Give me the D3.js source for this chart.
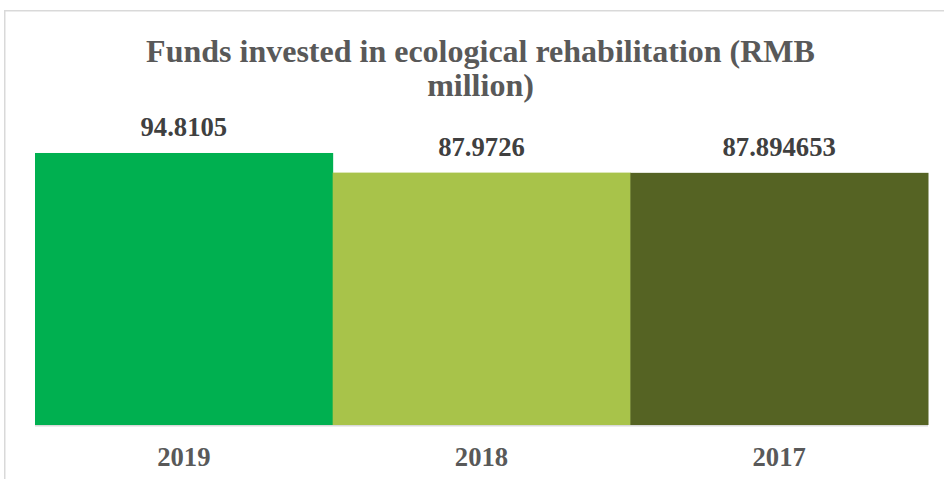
<!DOCTYPE html>
<html>
<head>
<meta charset="utf-8">
<script src="https://cdn.jsdelivr.net/npm/d3@7"></script>
<style>
  html, body { margin: 0; padding: 0; background: #fff; }
  svg { display: block; }
</style>
</head>
<body>
<script>
const categories = ["2019", "2018", "2017"];
const values = [94.8105, 87.9726, 87.894653];
const valueLabels = ["94.8105", "87.9726", "87.894653"];
const barColors = ["#00B050", "#A8C34A", "#556323"];
const titleLines = ["Funds invested in ecological rehabilitation (RMB", "million)"];

const W = 944, H = 479;
const svg = d3.select("body").append("svg").attr("width", W).attr("height", H);

// chart border
svg.append("rect")
  .attr("x", 4.75).attr("y", 10.75)
  .attr("width", 1000).attr("height", 600)
  .attr("fill", "none").attr("stroke", "#d9d9d9").attr("stroke-width", 1.5);

const x = d3.scaleBand().domain(categories).range([35, 928]).padding(0);
const y = d3.scaleLinear().domain([0, 100]).range([425, 138.1]);

const font = "'Liberation Serif', 'Times New Roman', serif";

// title
svg.append("g").selectAll("text").data(titleLines).join("text")
  .attr("x", 480.5)
  .attr("y", (d, i) => i === 0 ? 61.7 : 96.2)
  .attr("text-anchor", "middle")
  .attr("font-family", font).attr("font-weight", "bold")
  .attr("font-size", "32px").attr("fill", "#595959")
  .text(d => d);

// bars
svg.append("g").selectAll("rect").data(values).join("rect")
  .attr("x", (d, i) => x(categories[i]))
  .attr("y", d => y(d))
  .attr("width", x.bandwidth() + 0.5)
  .attr("height", d => y(0) - y(d))
  .attr("fill", (d, i) => barColors[i]);

// axis
const xAxis = d3.axisBottom(x).tickSize(0).tickPadding(22);
const ax = svg.append("g").attr("transform", `translate(0,${y(0)})`).call(xAxis);
ax.select(".domain").attr("stroke", "#d9d9d9").attr("stroke-width", 1.5)
  .attr("d", `M${x.range()[0]},0.75H${x.range()[1]}`);
ax.selectAll(".tick text")
  .attr("font-family", font).attr("font-weight", "bold")
  .attr("font-size", "26.67px").attr("fill", "#595959")
  .attr("dy", null).attr("y", 40.7);

// data labels
svg.append("g").selectAll("text").data(values).join("text")
  .attr("x", (d, i) => x(categories[i]) + x.bandwidth() / 2)
  .attr("y", d => y(d) - 16.8)
  .attr("text-anchor", "middle")
  .attr("font-family", font).attr("font-weight", "bold")
  .attr("font-size", "26.67px").attr("fill", "#404040")
  .text((d, i) => valueLabels[i]);
</script>
</body>
</html>
